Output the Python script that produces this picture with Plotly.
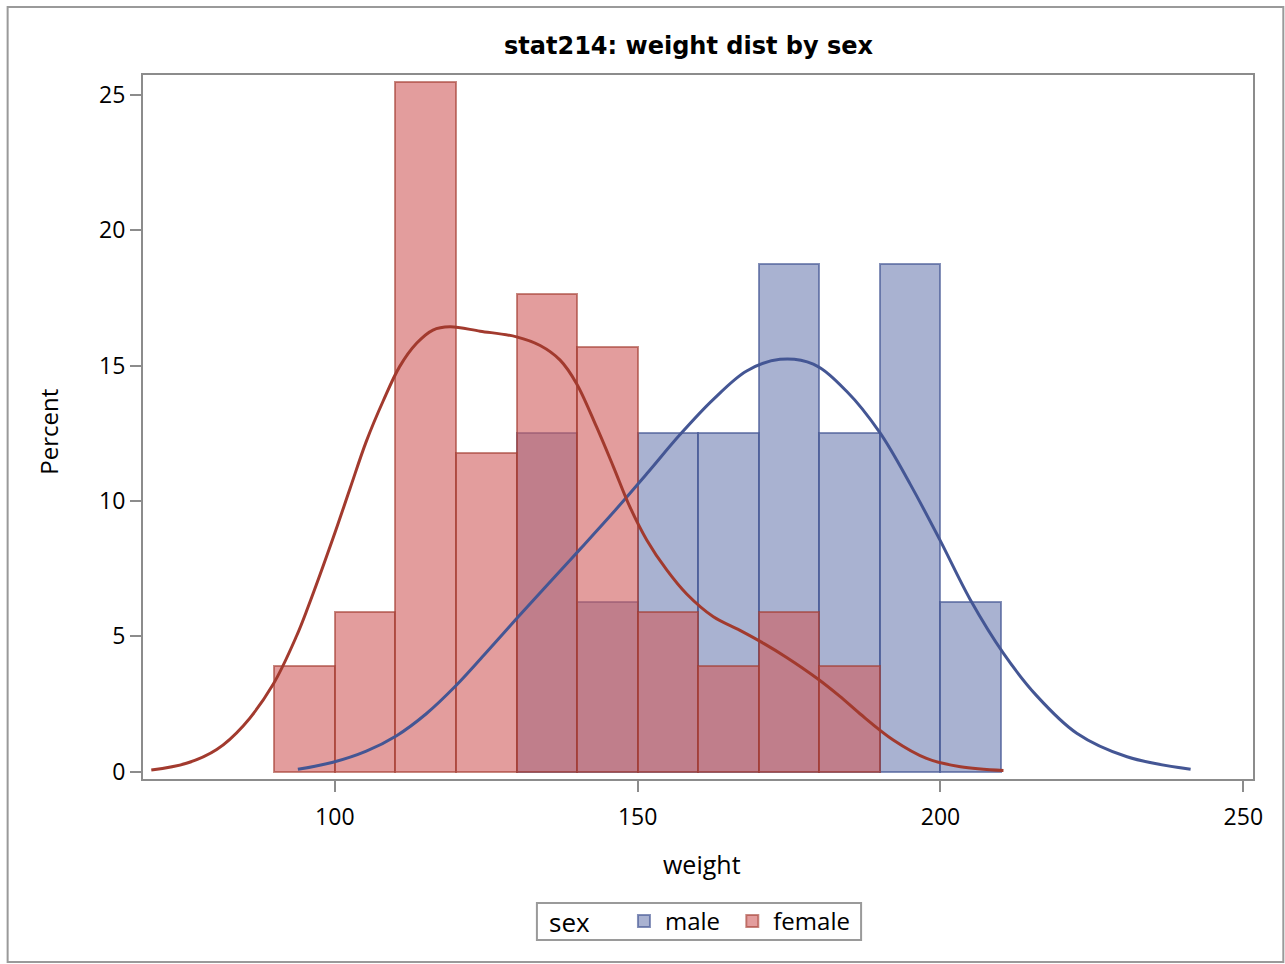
import plotly.graph_objects as go

# ---------------- data ----------------
bin_width = 10
male_bin_mid = [135, 145, 155, 165, 175, 185, 195, 205]
male_pct = [12.5, 6.25, 12.5, 12.5, 18.75, 12.5, 18.75, 6.25]

female_bin_mid = [95, 105, 115, 125, 135, 145, 155, 165, 175, 185]
female_pct = [3.92, 5.88, 25.49, 11.76, 17.65, 15.69, 5.88, 3.92, 5.88, 3.92]

male_kde_x = [93.9, 99.7, 105.2, 110.2, 115.1, 120.1, 124.6, 129.8, 135.0, 140.5,
              146.0, 151.5, 157.0, 162.5, 168.0, 173.5, 179.0, 184.5, 190.0, 195.0,
              199.9, 204.9, 210.4, 215.9, 222.5, 230.8, 241.3]
male_kde_y = [0.09, 0.35, 0.76, 1.33, 2.14, 3.20, 4.30, 5.60, 6.88, 8.22,
              9.58, 11.00, 12.45, 13.75, 14.80, 15.23, 15.05, 14.05, 12.52, 10.62,
              8.56, 6.36, 4.37, 2.80, 1.42, 0.55, 0.09]

female_kde_x = [69.7, 75.5, 80.5, 84.9, 89.8, 93.7, 95.6, 99.7, 102.5, 105.2,
                108.0, 110.7, 113.5, 116.2, 119.0, 124.0, 130.0, 133.9, 137.2, 139.9,
                143.2, 146.0, 148.7, 151.5, 154.8, 158.1, 162.5, 166.9, 170.8, 174.6,
                179.6, 183.4, 186.7, 192.2, 197.7, 203.3, 210.4]
female_kde_y = [0.06, 0.31, 0.82, 1.70, 3.22, 5.02, 6.09, 8.62, 10.45, 12.20,
                13.70, 14.96, 15.82, 16.31, 16.43, 16.27, 16.06, 15.74, 15.20, 14.34,
                12.74, 11.26, 9.79, 8.56, 7.45, 6.56, 5.72, 5.22, 4.74, 4.22,
                3.45, 2.78, 2.14, 1.17, 0.49, 0.18, 0.04]

x_ticks = [100, 150, 200, 250]
y_ticks = [0, 5, 10, 15, 20, 25]

# ---------------- styles ----------------
FONT = "Open Sans"
AX = "#8c8c8c"
male_fill = "rgba(111,126,179,0.6)"
male_line = "rgba(68,86,148,0.65)"
female_fill = "rgba(208,91,91,0.6)"
female_line = "rgba(162,58,46,0.6)"

fig = go.Figure()
fig.add_trace(go.Bar(x=male_bin_mid, y=male_pct, width=bin_width, name="male&nbsp;",
                     marker=dict(color=male_fill, line=dict(color=male_line, width=2))))
fig.add_trace(go.Bar(x=female_bin_mid, y=female_pct, width=bin_width, name="female",
                     marker=dict(color=female_fill, line=dict(color=female_line, width=2))))
fig.add_trace(go.Scatter(x=male_kde_x, y=male_kde_y, mode="lines", showlegend=False,
                         line=dict(color="#445694", width=3, shape="spline", smoothing=1.0)))
fig.add_trace(go.Scatter(x=female_kde_x, y=female_kde_y, mode="lines", showlegend=False,
                         line=dict(color="#A23A2E", width=3, shape="spline", smoothing=1.0)))

L, R, T, B = 143.3, 1252.7, 75.0, 779.0
W, H = 1285, 964
pw, ph = R - L, B - T

def px(x):
    return (x - L) / pw

def py(y):
    return (B - y) / ph

fig.update_layout(
    width=W, height=H,
    margin=dict(l=L, r=W - R, t=T, b=H - B, pad=0),
    paper_bgcolor="white", plot_bgcolor="white",
    barmode="overlay", bargap=0,
    font=dict(family=FONT, size=23, color="black"),
    showlegend=True,
    legend=dict(
        orientation="h", x=px(623), xanchor="left", y=py(921.5), yanchor="middle",
        borderwidth=0, bgcolor="rgba(0,0,0,0)",
        font=dict(size=24, family=FONT),
        traceorder="normal", tracegroupgap=0, itemwidth=32,
    ),
    xaxis=dict(
        range=[68.33, 251.6], tickvals=x_ticks, ticktext=[str(v) for v in x_ticks],
        showgrid=False, zeroline=False, showline=True, linecolor=AX, linewidth=2,
        mirror=True, ticks="outside", ticklen=11, tickwidth=2, tickcolor=AX,
        tickfont=dict(size=23, family=FONT), ticklabelstandoff=5,
    ),
    yaxis=dict(
        range=[-0.27, 25.73], tickvals=y_ticks, ticktext=[str(v) for v in y_ticks],
        showgrid=False, zeroline=False, showline=True, linecolor=AX, linewidth=2,
        mirror=True, ticks="outside", ticklen=11, tickwidth=2, tickcolor=AX,
        tickfont=dict(size=23, family=FONT),
    ),
    annotations=[
        dict(text="<b>stat214: weight dist by sex</b>", xref="paper", yref="paper",
             x=px(689.5), y=py(46), xanchor="center", yanchor="middle",
             showarrow=False, font=dict(family="DejaVu Sans", size=24, color="black")),
        dict(text="weight", xref="paper", yref="paper", x=px(702), y=py(864),
             xanchor="center", yanchor="middle", showarrow=False,
             font=dict(family=FONT, size=25, color="black")),
        dict(text="Percent", xref="paper", yref="paper", x=px(48), y=py(432),
             xanchor="center", yanchor="middle", showarrow=False, textangle=-90,
             font=dict(family=FONT, size=24, color="black")),
        dict(text="sex", xref="paper", yref="paper", x=px(547), y=py(921.5),
             xanchor="left", yanchor="middle", showarrow=False,
             font=dict(family=FONT, size=26, color="black")),
    ],
    shapes=[
        dict(type="rect", xref="paper", yref="paper", x0=px(8), x1=px(1283),
             y0=py(962), y1=py(7), line=dict(color="#9a9a9a", width=2),
             fillcolor="rgba(0,0,0,0)", layer="below"),
        dict(type="rect", xref="paper", yref="paper", x0=px(537), x1=px(861),
             y0=py(940), y1=py(903), line=dict(color="#9a9a9a", width=2),
             fillcolor="white", layer="below"),
    ],
)

fig.write_html("out.html")
